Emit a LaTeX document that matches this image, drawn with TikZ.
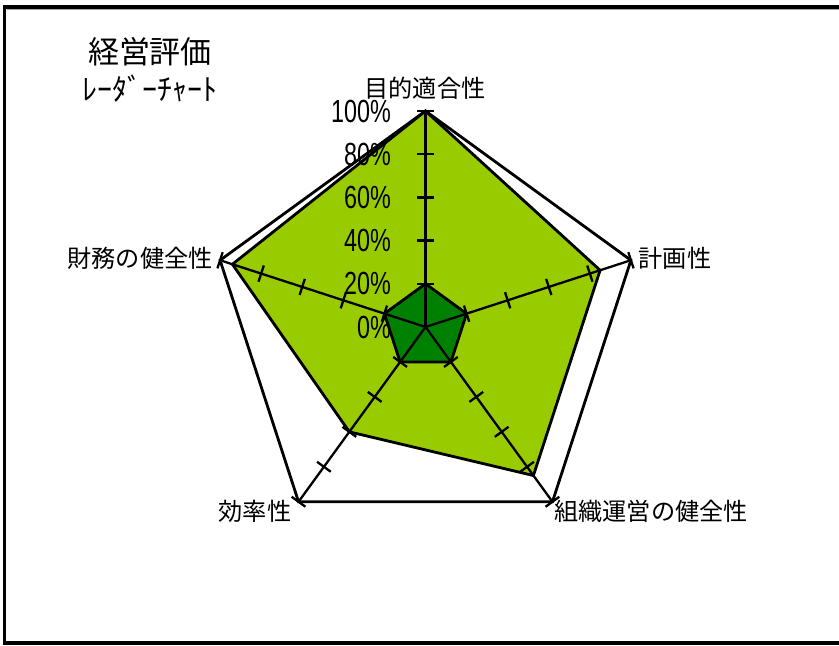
\documentclass[tikz,border=0pt]{standalone}
\usepackage{fontspec}
\newfontfamily\jpfont{Noto Sans CJK JP}
\newfontfamily\pctfont[FakeStretch=0.73]{Liberation Sans}
\definecolor{lgreen}{HTML}{99CC00}
\definecolor{dgreen}{HTML}{008000}
\tikzset{
  gridline/.style={line width=2.8pt, draw=black},
  axisline/.style={line width=2.3pt, draw=black},
  axlabel/.style={font=\jpfont\fontsize{24.2}{28}\selectfont, inner sep=0pt},
  pctlabel/.style={font=\pctfont\fontsize{32}{32}\selectfont, inner sep=0pt, anchor=east},
}
\begin{document}
\begin{tikzpicture}[x=1pt,y=1pt]
\useasboundingbox (0,0) rectangle (839,646);
\clip (0,0) rectangle (839,646);
\fill[white] (0,0) rectangle (839,646);
% frame
\draw[line width=3.5pt] (4.5,3) rectangle (870,639);
\draw[gray!70, line width=0.8pt] (6.5,636.8) -- (839,636.8);
% title
\node[font=\jpfont\fontsize{31}{36}\selectfont, inner sep=0pt] (title) at (150,594) {経営評価};
\node[font=\jpfont\fontsize{30}{36}\selectfont, inner sep=0pt] (subtitle) at (150,557) {ﾚｰﾀﾞｰﾁｬｰﾄ};
\begin{scope}[shift={(425.5,319)}]
  \foreach \i/\a in {1/90,2/18,3/-54,4/-126,5/162}{
    \coordinate (o\i) at (\a:216);
  }
  \coordinate (c) at (0,0);
  % outer grid pentagon
  \draw[gridline] (o1) -- (o2) -- (o3) -- (o4) -- (o5) -- cycle;
  % data polygon
  \filldraw[fill=lgreen, gridline] (90:216) -- (18:0.85*216) -- (-54:0.85*216) -- (-126:0.60*216) -- (162:0.94*216) -- cycle;
  % inner series
  \filldraw[fill=dgreen, gridline] (90:43.2) -- (18:43.2) -- (-54:43.2) -- (-126:43.2) -- (162:43.2) -- cycle;
  % axes and ticks
  \foreach \i/\a in {1/90,2/18,3/-54,4/-126,5/162}{
    \draw[axisline] (c) -- (o\i);
    \begin{scope}[rotate=\a]
      \foreach \f in {0.2,0.4,0.6,0.8,1.0}{
        \draw[axisline] ({\f*216},-8.5) -- ({\f*216},8.5);
      }
    \end{scope}
  }
  % percent labels
  \node[pctlabel] (p0) at (-34.5,0) {0\%};
  \node[pctlabel] (p20) at (-34.5,43.2) {20\%};
  \node[pctlabel] (p40) at (-34.5,86.4) {40\%};
  \node[pctlabel] (p60) at (-34.5,129.6) {60\%};
  \node[pctlabel] (p80) at (-34.5,172.8) {80\%};
  \node[pctlabel] (p100) at (-34.5,216) {100\%};
\end{scope}
% axis labels
\node[axlabel] (l1) at (425,558) {目的適合性};
\node[axlabel] (l2) at (675,388) {計画性};
\node[axlabel] (l3) at (651,135) {組織運営の健全性};
\node[axlabel] (l4) at (255,135) {効率性};
\node[axlabel] (l5) at (140,388) {財務の健全性};
\end{tikzpicture}
\end{document}
